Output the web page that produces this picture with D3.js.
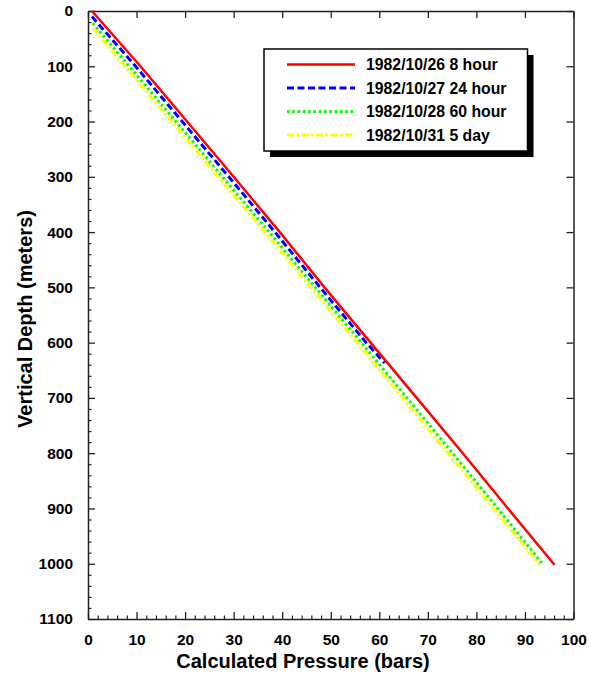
<!DOCTYPE html>
<html>
<head>
<meta charset="utf-8">
<script src="https://cdn.jsdelivr.net/npm/d3@7/dist/d3.min.js"></script>
<style>
  html, body { margin: 0; padding: 0; background: #fff; }
  svg { display: block; font-family: "Liberation Sans", Arial, Helvetica, sans-serif; }
</style>
</head>
<body>
<svg id="chart" width="590" height="677"></svg>
<script>
// ---- data ----
const seriesNames = ["1982/10/26 8 hour", "1982/10/27 24 hour", "1982/10/28 60 hour", "1982/10/31 5 day"];
const seriesColors = ["#ff0000", "#0000ff", "#00ff00", "#ffff00"];

// depth (m) / pressure (bars) pairs per series
const redDepth   = [0, 100, 200, 300, 400, 500, 600, 700, 800, 900, 1000, 1002];
const redPress   = [0.8, 10.8, 20.4, 30.0, 39.5, 48.7, 58.2, 67.7, 77.2, 86.5, 95.9, 96.1];

const blueDepth  = [10, 100, 200, 300, 400, 500, 600, 637];
const bluePress  = [0.8, 9.8, 19.4, 29.0, 38.5, 47.8, 57.3, 61.1];

const greenDepth = [22, 100, 200, 300, 400, 500, 600, 700, 800, 900, 1002];
const greenPress = [1.0, 8.5, 18.1, 27.7, 37.3, 46.8, 56.3, 65.7, 75.1, 84.4, 93.8];

const yellowDepth = [31, 100, 200, 300, 400, 500, 600, 700, 800, 900, 1002];
const yellowPress = [1.0, 7.6, 17.2, 26.8, 36.4, 45.9, 55.4, 64.8, 74.2, 83.5, 93.0];

const xTicks = [0, 10, 20, 30, 40, 50, 60, 70, 80, 90, 100];
const yTicks = [0, 100, 200, 300, 400, 500, 600, 700, 800, 900, 1000, 1100];

const xLabel = "Calculated Pressure (bars)";
const yLabel = "Vertical Depth (meters)";

// ---- drawing ----
const svg = d3.select("#chart");
const L = 88, R = 573.5, T = 11, B = 619;
const x = d3.scaleLinear().domain([0, 100]).range([L, R]);
const y = d3.scaleLinear().domain([0, 1100]).range([T, B]);

const xMinor = d3.range(0, 100.001, 2).filter(v => v % 10 !== 0);
const yMinor = d3.range(0, 1100.001, 20).filter(v => v % 100 !== 0);

const axisColor = "#222";
function styleAxis(g, fontSize) {
  g.selectAll("path.domain").attr("stroke", axisColor).attr("stroke-width", 1.5);
  g.selectAll(".tick line").attr("stroke", axisColor).attr("stroke-width", 1.3);
  g.selectAll(".tick text").attr("fill", "#000").attr("font-weight", "bold")
    .attr("font-size", fontSize).attr("font-family", "Liberation Sans, Arial, sans-serif");
}

// minor ticks (bottom / left)
svg.append("g").attr("transform", `translate(0,${B})`)
  .call(d3.axisBottom(x).tickValues(xMinor).tickSize(-3.5).tickFormat(""))
  .call(g => { g.select(".domain").remove(); g.selectAll("line").attr("stroke", axisColor).attr("stroke-width", 1.2); });
svg.append("g").attr("transform", `translate(${L},0)`)
  .call(d3.axisLeft(y).tickValues(yMinor).tickSize(-3.5).tickFormat(""))
  .call(g => { g.select(".domain").remove(); g.selectAll("line").attr("stroke", axisColor).attr("stroke-width", 1.2); });

// major axes
svg.append("g").attr("transform", `translate(0,${B})`)
  .call(d3.axisBottom(x).tickValues(xTicks).tickSizeInner(-7).tickSizeOuter(0).tickPadding(15).tickFormat(d3.format("d")))
  .call(g => styleAxis(g, 15.5));
svg.append("g").attr("transform", `translate(${L},0)`)
  .call(d3.axisLeft(y).tickValues(yTicks).tickSizeInner(-7).tickSizeOuter(0).tickPadding(15).tickFormat(d3.format("d")))
  .call(g => styleAxis(g, 15.5));
svg.append("g").attr("transform", `translate(0,${T})`)
  .call(d3.axisTop(x).tickValues(xTicks).tickSizeInner(-7).tickSizeOuter(0).tickFormat(""))
  .call(g => styleAxis(g, 15));
svg.append("g").attr("transform", `translate(${R},0)`)
  .call(d3.axisRight(y).tickValues(yTicks).tickSizeInner(-7).tickSizeOuter(0).tickFormat(""))
  .call(g => styleAxis(g, 15));

// series
const series = [
  { name: seriesNames[0], color: seriesColors[0], depth: redDepth, press: redPress, dash: null, width: 2.5 },
  { name: seriesNames[1], color: seriesColors[1], depth: blueDepth, press: bluePress, dash: "7,3.5", width: 3 },
  { name: seriesNames[2], color: seriesColors[2], depth: greenDepth, press: greenPress, dash: "2.5,2.8", width: 3 },
  { name: seriesNames[3], color: seriesColors[3], depth: yellowDepth, press: yellowPress, dash: "7,2.5,2.5,2.5", width: 3 }
];

const line = d3.line().x(d => x(d[0])).y(d => y(d[1]));
// draw in reverse so red is on top
series.slice().reverse().forEach(s => {
  const pts = s.press.map((p, i) => [p, s.depth[i]]);
  svg.append("path").datum(pts)
    .attr("d", line)
    .attr("fill", "none")
    .attr("stroke", s.color)
    .attr("stroke-width", s.width)
    .attr("stroke-dasharray", s.dash)
    .attr("stroke-linejoin", "round");
});

// axis titles
svg.append("text")
  .attr("x", 303).attr("y", 668)
  .attr("text-anchor", "middle").attr("font-weight", "bold").attr("font-size", 20)
  .text(xLabel);
svg.append("text")
  .attr("transform", `translate(32,${(T + B) / 2 + 4}) rotate(-90)`)
  .attr("text-anchor", "middle").attr("font-weight", "bold").attr("font-size", 20)
  .text(yLabel);

// legend
const lg = svg.append("g").attr("transform", "translate(264,49)");
const lw = 263.5, lh = 102;
lg.append("rect").attr("x", 6).attr("y", 6).attr("width", lw).attr("height", lh).attr("fill", "#000");
lg.append("rect").attr("x", 0).attr("y", 0).attr("width", lw).attr("height", lh)
  .attr("fill", "#fff").attr("stroke", "#000").attr("stroke-width", 1.5);
series.forEach((s, i) => {
  const yy = 15.5 + i * 23.5;
  lg.append("line").attr("x1", 23).attr("x2", 91).attr("y1", yy).attr("y2", yy)
    .attr("stroke", s.color).attr("stroke-width", s.width).attr("stroke-dasharray", s.dash);
  lg.append("text").attr("x", 102).attr("y", yy + 5.5)
    .attr("font-weight", "bold").attr("font-size", 15.8).attr("fill", "#000")
    .text(s.name);
});
</script>
</body>
</html>
